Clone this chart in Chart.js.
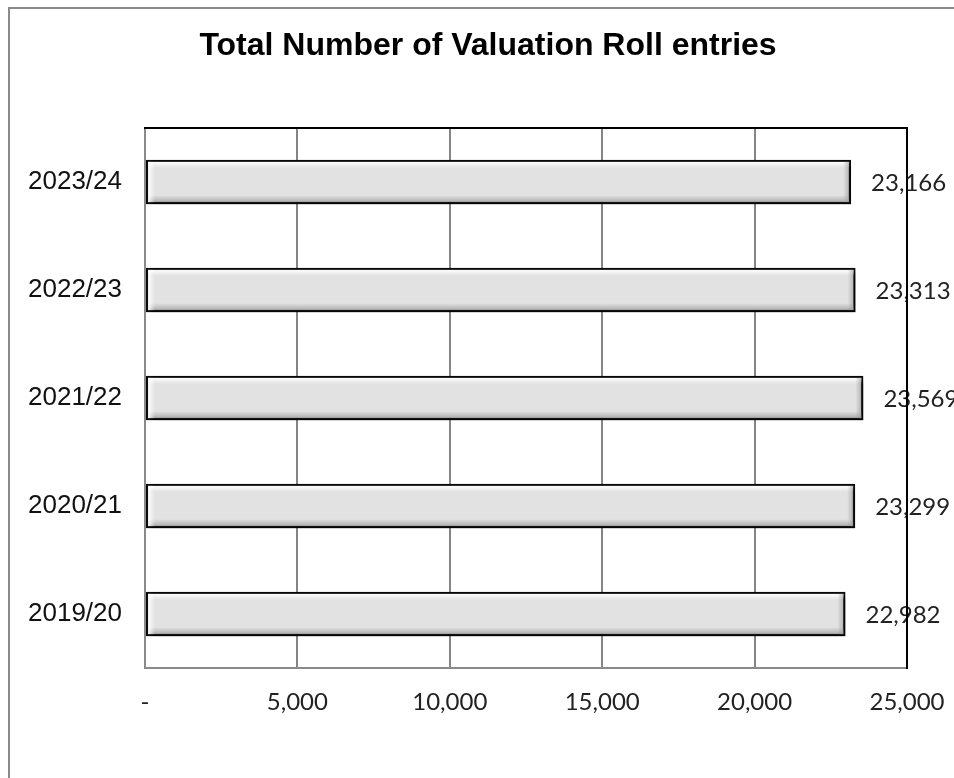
<!DOCTYPE html>
<html>
<head>
<meta charset="utf-8">
<script src="https://cdn.jsdelivr.net/npm/chart.js@4/dist/chart.umd.min.js"></script>
<style>
  html, body { margin: 0; padding: 0; background: #fff; }
  #wrap { width: 954px; height: 778px; }
</style>
</head>
<body>
<div id="wrap"><canvas id="chart" width="954" height="778"></canvas></div>
<script>
// Data
const chartTitle = "Total Number of Valuation Roll entries";
const years = ["2019/20", "2020/21", "2021/22", "2022/23", "2023/24"];
const entries = [22982, 23299, 23569, 23313, 23166];
const xTicks = [0, 5000, 10000, 15000, 20000, 25000];

function formatNumber(v) {
    if (v === 0) return "-";
    return v.toLocaleString("en-US");
}

// Outer frame, title and plot border on top/right
const framePlugin = {
    id: "frame",
    beforeDraw(chart) {
        const ctx = chart.ctx;
        ctx.save();
        ctx.fillStyle = "#fff";
        ctx.fillRect(0, 0, chart.width, chart.height);
        ctx.strokeStyle = "#8a8a8a";
        ctx.lineWidth = 2;
        ctx.strokeRect(9, 8, chart.width + 20, chart.height + 20);
        ctx.fillStyle = "#000";
        ctx.font = "bold 32px 'Liberation Sans', Arial, sans-serif";
        ctx.textAlign = "center";
        ctx.textBaseline = "middle";
        ctx.fillText(chartTitle, 488, 46);
        ctx.restore();
    },
    afterDraw(chart) {
        const a = chart.chartArea;
        const ctx = chart.ctx;
        ctx.save();
        ctx.strokeStyle = "#000";
        ctx.lineWidth = 2;
        ctx.beginPath();
        ctx.moveTo(a.left - 1, a.top);
        ctx.lineTo(a.right, a.top);
        ctx.lineTo(a.right, a.bottom + 1);
        ctx.stroke();
        ctx.restore();
    }
};

// Soft drop shadow under the bars
const shadowPlugin = {
    id: "barShadow",
    beforeDatasetsDraw(chart) {
        const ctx = chart.ctx;
        ctx.save();
        ctx.shadowColor = "rgba(0,0,0,0.45)";
        ctx.shadowBlur = 6;
        ctx.shadowOffsetX = 2;
        ctx.shadowOffsetY = 5;
    },
    afterDatasetsDraw(chart) {
        const ctx = chart.ctx;
        ctx.restore();

        // bevel highlight on each bar + value labels
        const meta = chart.getDatasetMeta(0);
        meta.data.forEach((bar, i) => {
            const left = bar.base + 2;
            const right = bar.x - 2;
            const top = bar.y - bar.height / 2 + 2;
            const bottom = bar.y + bar.height / 2 - 2;

            ctx.save();
            let g = ctx.createLinearGradient(0, top, 0, top + 6);
            g.addColorStop(0, "rgba(255,255,255,1)");
            g.addColorStop(1, "rgba(255,255,255,0)");
            ctx.fillStyle = g;
            ctx.fillRect(left, top, right - left, 6);

            g = ctx.createLinearGradient(0, bottom - 7, 0, bottom);
            g.addColorStop(0, "rgba(150,150,150,0)");
            g.addColorStop(1, "rgba(150,150,150,0.7)");
            ctx.fillStyle = g;
            ctx.fillRect(left, bottom - 7, right - left, 7);

            g = ctx.createLinearGradient(left, 0, left + 7, 0);
            g.addColorStop(0, "rgba(255,255,255,0.9)");
            g.addColorStop(1, "rgba(255,255,255,0)");
            ctx.fillStyle = g;
            ctx.fillRect(left, top, 7, bottom - top);

            g = ctx.createLinearGradient(right - 6, 0, right, 0);
            g.addColorStop(0, "rgba(150,150,150,0)");
            g.addColorStop(1, "rgba(150,150,150,0.6)");
            ctx.fillStyle = g;
            ctx.fillRect(right - 6, top, 6, bottom - top);

            ctx.fillStyle = "#222";
            ctx.font = "24px Lato, 'Open Sans', sans-serif";
            ctx.textAlign = "left";
            ctx.textBaseline = "middle";
            ctx.fillText(formatNumber(entries[i]), bar.x + 20, bar.y + 1);
            ctx.restore();
        });
    }
};

const ctx = document.getElementById("chart").getContext("2d");
const chart = new Chart(ctx, {
    type: "bar",
    data: {
        labels: years,
        datasets: [{
            label: "Entries",
            data: entries,
            backgroundColor: "#e2e2e2",
            borderColor: "#0a0a0a",
            borderWidth: 2.5,
            borderSkipped: false,
            barPercentage: 0.41,
            categoryPercentage: 1
        }]
    },
    options: {
        indexAxis: "y",
        responsive: false,
        animation: false,
        layout: {
            padding: { top: 128, right: 47, left: 0, bottom: 0 }
        },
        plugins: {
            legend: { display: false },
            title: { display: false },
            tooltip: { enabled: false }
        },
        scales: {
            x: {
                min: 0,
                max: 25000,
                afterBuildTicks(scale) {
                    scale.ticks = xTicks.map(v => ({ value: v }));
                },
                afterFit(scale) {
                    scale.height = 110;
                    scale.paddingLeft = 0;
                    scale.paddingRight = 0;
                },
                grid: {
                    color: "#858585",
                    lineWidth: 2,
                    drawTicks: false
                },
                border: { color: "#8a8a8a", width: 2 },
                ticks: {
                    padding: 20,
                    color: "#222",
                    font: { family: "Lato, 'Open Sans', sans-serif", size: 24 },
                    maxRotation: 0,
                    callback: v => formatNumber(v)
                }
            },
            y: {
                reverse: true,
                afterFit(scale) {
                    scale.width = 145;
                    scale.paddingTop = 0;
                    scale.paddingBottom = 0;
                },
                grid: { display: false, drawTicks: false },
                border: { color: "#8a8a8a", width: 2 },
                ticks: {
                    padding: 23,
                    color: "#111",
                    font: { family: "'Liberation Sans', Arial, sans-serif", size: 26 }
                }
            }
        }
    },
    plugins: [framePlugin, shadowPlugin]
});
</script>
</body>
</html>
